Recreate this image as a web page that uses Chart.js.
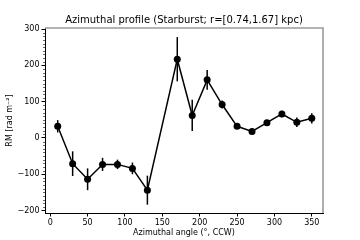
<!DOCTYPE html>
<html><head><meta charset="utf-8">
<script src="https://cdn.jsdelivr.net/npm/chart.js@4/dist/chart.umd.min.js"></script>
<style>html,body{margin:0;padding:0;background:#fff}#w{width:360px;height:240px}</style>
</head><body><div id="w"><canvas id="c" width="360" height="240"></canvas></div>
<script>
const angles = [10,30,50,70,90,110,130,170,190,210,230,250,270,290,310,330,350];
const rmValues = [32,-71,-114,-73,-73,-84,-144,217,62,160,92,32,18,42,66,43,54];
const rmErrors = [17,34,30,18,13,16,40,61,43,27,11,5,5,5,9,13,14];
const xTicks = [0,50,100,150,200,250,300,350];
const yTicks = [-200,-100,0,100,200,300];
const titleText = 'Azimuthal profile (Starburst; r=[0.74,1.67] kpc)';
const xLabel = 'Azimuthal angle (\u00b0, CCW)';
const yLabel = 'RM [rad m\u207b\u00b2]';

const FONT = 'DejaVu Sans';

const extras = {
  id: 'extras',
  beforeDatasetsDraw(chart) {
    const ctx = chart.ctx, xs = chart.scales.x, ys = chart.scales.y, a = chart.chartArea;
    ctx.save();
    ctx.beginPath(); ctx.rect(a.left, a.top, a.right - a.left, a.bottom - a.top); ctx.clip();
    ctx.strokeStyle = '#000'; ctx.lineWidth = 1.5;
    angles.forEach((ang, i) => {
      const px = xs.getPixelForValue(ang);
      ctx.beginPath();
      ctx.moveTo(px, ys.getPixelForValue(rmValues[i] - rmErrors[i]));
      ctx.lineTo(px, ys.getPixelForValue(rmValues[i] + rmErrors[i]));
      ctx.stroke();
    });
    ctx.restore();
  },
  afterDraw(chart) {
    const ctx = chart.ctx, ys = chart.scales.y, a = chart.chartArea;
    ctx.save();
    // minor ticks on y
    ctx.strokeStyle = '#000'; ctx.lineWidth = 0.6;
    for (let v = -200; v <= 300; v += 10) {
      if (v % 100 === 0) continue;
      const py = Math.round(ys.getPixelForValue(v)) + 0.5;
      ctx.beginPath(); ctx.moveTo(a.left - 2, py); ctx.lineTo(a.left, py); ctx.stroke();
    }
    // top and right spines (grey)
    ctx.strokeStyle = '#9a9a9a'; ctx.lineWidth = 1.6;
    ctx.beginPath();
    ctx.moveTo(a.left, a.top); ctx.lineTo(a.right, a.top); ctx.lineTo(a.right, a.bottom);
    ctx.stroke();
    ctx.restore();
  }
};

new Chart(document.getElementById('c'), {
  type: 'line',
  data: {
    datasets: [{
      data: angles.map((x, i) => ({x: x, y: rmValues[i]})),
      borderColor: '#000', backgroundColor: '#000', borderWidth: 1.5,
      pointRadius: 3.5, pointBackgroundColor: '#000', pointBorderWidth: 0,
      tension: 0, fill: false
    }]
  },
  options: {
    responsive: false, animation: false, devicePixelRatio: 1,
    layout: {padding: {left: 0, right: 37, top: 0, bottom: 0}},
    plugins: {
      legend: {display: false}, tooltip: {enabled: false},
      title: {display: true, text: titleText, color: '#000', fullSize: false,
        font: {family: FONT, size: 10, weight: 'normal', lineHeight: 1.2},
        padding: {top: 14, bottom: 2}}
    },
    scales: {
      x: {
        type: 'linear', min: -7, max: 365,
        afterFit(s) { s.height = 27; },
        afterBuildTicks(s) { s.ticks = xTicks.map(v => ({value: v})); },
        ticks: {color: '#000', font: {family: FONT, size: 8}, padding: 2, maxRotation: 0,
          callback: v => String(v)},
        grid: {display: true, drawOnChartArea: false, drawTicks: true, tickLength: 3.5, color: '#000', tickColor: '#000'},
        border: {display: true, color: '#000', width: 1},
        title: {display: true, text: xLabel, color: '#000', font: {family: FONT, size: 8}, padding: {top: 0, bottom: 2}}
      },
      y: {
        type: 'linear', min: -207, max: 303,
        afterFit(s) { s.width = 45; },
        afterBuildTicks(s) { s.ticks = yTicks.map(v => ({value: v})); },
        ticks: {color: '#000', font: {family: FONT, size: 8}, padding: 2,
          callback: v => String(v).replace('-', '\u2212')},
        grid: {display: true, drawOnChartArea: false, drawTicks: true, tickLength: 3.5, color: '#000', tickColor: '#000'},
        border: {display: true, color: '#000', width: 1},
        title: {display: true, text: yLabel, color: '#000', font: {family: FONT, size: 8}, padding: {top: 5, bottom: 0}}
      }
    }
  },
  plugins: [extras]
});
</script>
</body></html>
